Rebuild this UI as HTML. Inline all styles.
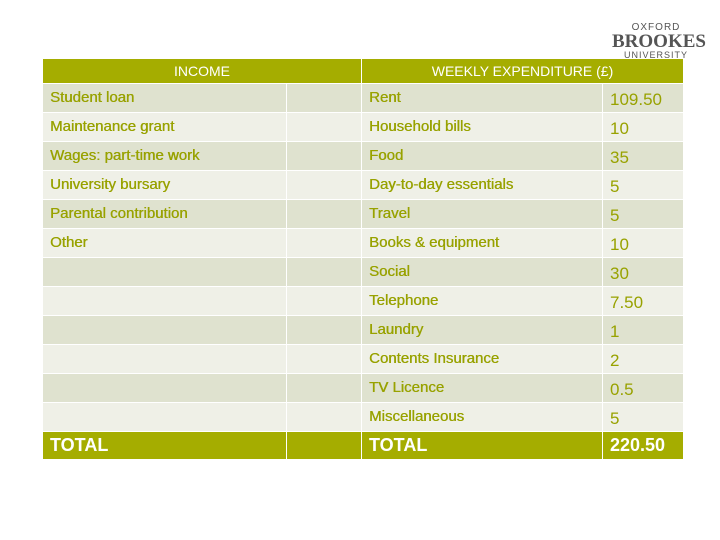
<!DOCTYPE html>
<html><head><meta charset="utf-8"><style>
body{margin:0;width:720px;height:540px;background:#fff;position:relative;overflow:hidden;font-family:"Liberation Sans",sans-serif}
.c{position:absolute;box-sizing:border-box;color:#98a200;font-size:15px;font-weight:normal;text-shadow:0.4px 0 0 #98a200;padding-left:7px;padding-bottom:2px;display:flex;align-items:center;border-right:1px solid #fff;border-bottom:1px solid #fff}
.d{background:#dfe2cf}.l{background:#eff0e7}
.h{background:#a5ad00;color:#fff;justify-content:center;padding:0;font-size:14px;text-shadow:none}
.t{background:#a5ad00;color:#fff;font-weight:bold;font-size:18px;padding-bottom:0;text-shadow:none}
.v{font-size:17px;padding-bottom:0;padding-top:4px;text-shadow:none}
</style></head><body>
<div style="position:absolute;left:612px;top:22px;width:88px;text-align:center;color:#555;font-family:'Liberation Serif',serif">
<div style="font-size:10px;letter-spacing:1px;font-family:'Liberation Sans',sans-serif">OXFORD</div>
<div style="font-size:19px;line-height:17px;font-weight:bold">BROOKES</div>
<div style="font-size:9px;letter-spacing:1px;font-family:'Liberation Sans',sans-serif">UNIVERSITY</div></div>
<div id="t"></div>
<script>
const income=["Student loan","Maintenance grant","Wages: part-time work","University bursary","Parental contribution","Other","","","","","",""];
const items=["Rent","Household bills","Food","Day-to-day essentials","Travel","Books & equipment","Social","Telephone","Laundry","Contents Insurance","TV Licence","Miscellaneous"];
const amounts=["109.50","10","35","5","5","10","30","7.50","1","2","0.5","5"];
const T=document.getElementById('t');
function cell(x,y,w,h,cls,txt,name){const e=document.createElement('div');e.className='c '+cls;e.style.cssText=`left:${x}px;top:${y}px;width:${w}px;height:${h}px`;e.textContent=txt;


T.appendChild(e);}
const X=[43,287,362,603,684];
cell(43,59,319,25,'h','INCOME','income-header');
cell(362,59,322,25,'h','WEEKLY EXPENDITURE (£)','expenditure-header');
for(let i=0;i<12;i++){const y=84+i*29.0,cls=i%2?'l':'d';
cell(X[0],y,X[1]-X[0],29,cls,income[i],'income-label');
cell(X[1],y,X[2]-X[1],29,cls,'','income-amount');
cell(X[2],y,X[3]-X[2],29,cls,items[i],'expense-label');
cell(X[3],y,X[4]-X[3],29,cls+' v',amounts[i],'expense-amount');}
const yt=84+12*29;
cell(X[0],yt,X[1]-X[0],28,'t','TOTAL','income-total-label');
cell(X[1],yt,X[2]-X[1],28,'t','','income-total');
cell(X[2],yt,X[3]-X[2],28,'t','TOTAL','expense-total-label');
cell(X[3],yt,X[4]-X[3],28,'t','220.50','expense-total');
</script></body></html>
